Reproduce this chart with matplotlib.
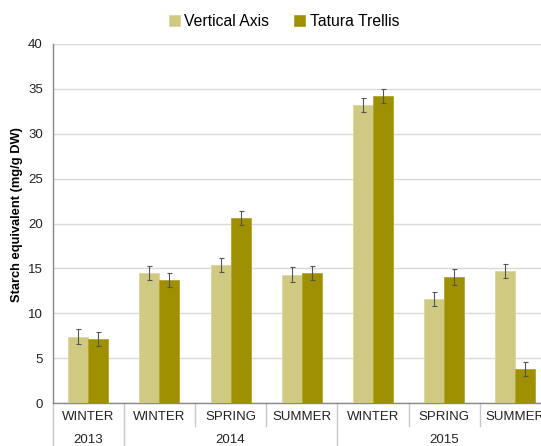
import matplotlib
matplotlib.use("Agg")
import matplotlib.pyplot as plt
import numpy as np

plt.rcParams['font.family'] = ['Liberation Sans', 'DejaVu Sans']

seasons = ['WINTER', 'WINTER', 'SPRING', 'SUMMER', 'WINTER', 'SPRING', 'SUMMER']
years = ['2013', '2014', '2015']
year_span = [(0, 1), (1, 4), (4, 7)]  # category index ranges per year

vertical_axis = [7.4, 14.5, 15.4, 14.3, 33.2, 11.6, 14.7]
vertical_err = [0.8, 0.8, 0.8, 0.8, 0.8, 0.8, 0.8]
tatura_trellis = [7.1, 13.7, 20.6, 14.5, 34.2, 14.0, 3.8]
tatura_err = [0.8, 0.8, 0.8, 0.8, 0.8, 0.9, 0.8]

c_light = '#CFC982'
c_dark = '#9E9000'

fig = plt.figure(figsize=(5.41, 4.46), dpi=100)
ax = fig.add_axes([52.6 / 541, 43 / 446, (551 - 52.6) / 541, 359 / 446])

x = np.arange(len(seasons)) + 0.5
w = 0.28
err_kw = dict(ecolor='#555555', elinewidth=0.8, capsize=1.8, capthick=0.8)
ax.bar(x - w / 2, vertical_axis, w, yerr=vertical_err, color=c_light,
       edgecolor='#DCD79E', linewidth=0.6, label='Vertical Axis', error_kw=err_kw, zorder=3)
ax.bar(x + w / 2, tatura_trellis, w, yerr=tatura_err, color=c_dark,
       edgecolor='#B0A530', linewidth=0.6, label='Tatura Trellis', error_kw=err_kw, zorder=3)

ax.set_xlim(0, len(seasons))
ax.set_ylim(0, 40)
ax.set_yticks(np.arange(0, 41, 5))
ax.tick_params(axis='y', length=0, labelsize=9.5, pad=7, colors='#222222')
ax.set_xticks([])
ax.grid(axis='y', color='#D9D9D9', linewidth=1, zorder=0)
for s in ['top', 'right']:
    ax.spines[s].set_visible(False)
for s in ['left', 'bottom']:
    ax.spines[s].set_color('#888888')
    ax.spines[s].set_linewidth(1)

ax.set_ylabel('Starch equivalent (mg/g DW)', fontsize=9.3, fontweight='bold')
ax.yaxis.set_label_coords(-0.06, 0.524)

# two level category axis
trans = ax.get_xaxis_transform()
for i, s in enumerate(seasons):
    ax.text(i + 0.5, -0.04, s, transform=trans, ha='center', va='center',
            fontsize=9.5, color='#222222')
for yr, (a, b) in zip(years, year_span):
    ax.text((a + b) / 2, -0.102, yr, transform=trans, ha='center', va='center',
            fontsize=9.5, color='#222222')
year_edges = [a for a, b in year_span]
for k in range(len(seasons)):
    low = -0.125 if k in year_edges else -0.064
    ax.plot([k, k], [0, low], transform=trans, color='#C8C8C8', lw=1, clip_on=False)

fig.legend(loc='upper center', bbox_to_anchor=(0.525, 1.0), ncol=2, frameon=False,
           fontsize=11.3, handlelength=0.7, handleheight=0.7, handletextpad=0.3,
           columnspacing=1.6)

fig.savefig('out.png', dpi=100)
